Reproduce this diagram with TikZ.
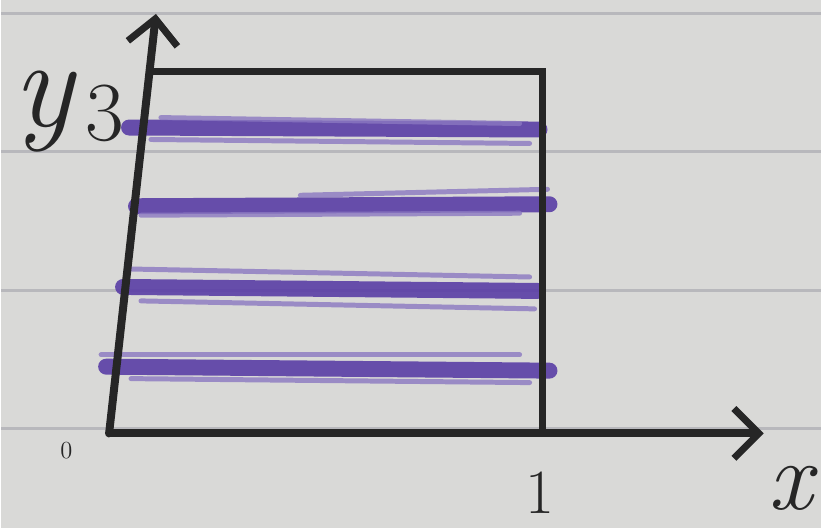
\documentclass[tikz,border=0pt]{standalone}
\usepackage{fontspec}
\usepackage{tikz}
\usetikzlibrary{arrows.meta}
\definecolor{paper}{HTML}{D9D9D7}
\definecolor{rule}{HTML}{B8B8BC}
\definecolor{ink}{HTML}{262626}
\definecolor{pen}{HTML}{5A3EA6}
\begin{document}
\begin{tikzpicture}
          [ x=0.02cm, y=-0.02cm,
            axis/.style={
              draw=ink,
              line width=1.6mm,
              line cap=round,
              -{Straight Barb[length=5mm,width=10mm,line width=1.4mm]},
            },
            edge/.style={
              draw=ink,
              line width=1.4mm,
            },
            stripe/.style={
              draw=pen,
              line width=3.2mm,
              line cap=round,
              opacity=.9,
            },
            thin stripe/.style={
              draw=pen!70,
              line width=1mm,
              line cap=round,
              opacity=.8,
            },
            label/.style={
              text=ink,
              inner sep=0pt,
            },
          ]

          % paper and ruled lines
          \fill[paper] (0,0) rectangle (822,530);
          \foreach \ry in {14,152,292,430}
            \draw[rule, line width=.6mm] (0,\ry) -- (822,\ry);

          % corners of the box
          \coordinate (origin) at (108,435);
          \coordinate (ytop)   at (155,14);
          \coordinate (xend)   at (765,435);
          \coordinate (topl)   at (150,72);
          \coordinate (topr)   at (543,72);
          \coordinate (botr)   at (543,435);

          % stripes
          \draw[stripe] (128,128) -- (540,130);
          \draw[thin stripe] (160,118) -- (520,124);
          \draw[thin stripe] (150,140) -- (530,144);
          \draw[stripe] (135,207) -- (550,205);
          \draw[thin stripe] (140,216) -- (520,214);
          \draw[thin stripe] (300,196) -- (548,190);
          \draw[stripe] (122,288) -- (538,292);
          \draw[thin stripe] (130,270) -- (530,278);
          \draw[thin stripe] (140,302) -- (535,310);
          \draw[stripe] (105,368) -- (550,372);
          \draw[thin stripe] (100,356) -- (520,356);
          \draw[thin stripe] (130,380) -- (530,384);

          % box and axes
          \draw[edge] (topl) -- (topr) -- (botr);
          \draw[axis] (origin) -- (ytop);
          \draw[axis] (origin) -- (xend);

          % labels
          \node (ylab) [label, font=\fontsize{72}{72}\selectfont\itshape] at (42,112) {y};
          \node (ymax) [label, font=\fontsize{48}{48}\selectfont] at (104,114) {3};
          \node (zero) [label, font=\fontsize{14}{14}\selectfont] at (65,452) {0};
          \node (xmax) [label, font=\fontsize{36}{36}\selectfont] at (540,494) {1};
          \node (xlab) [label, font=\fontsize{56}{56}\selectfont\itshape] at (792,490) {x};

\end{tikzpicture}
\end{document}
